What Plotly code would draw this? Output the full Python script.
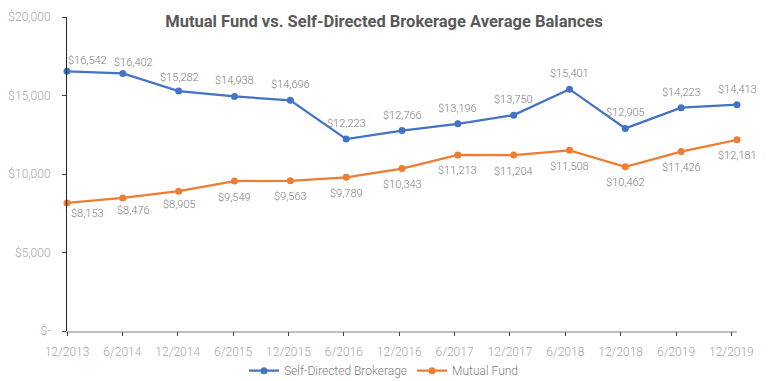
import plotly.graph_objects as go

categories = ["12/2013", "6/2014", "12/2014", "6/2015", "12/2015", "6/2016", "12/2016",
              "6/2017", "12/2017", "6/2018", "12/2018", "6/2019", "12/2019"]
brokerage = [16542, 16402, 15282, 14938, 14696, 12223, 12766, 13196, 13750, 15401, 12905, 14223, 14413]
mutual = [8153, 8476, 8905, 9549, 9563, 9789, 10343, 11213, 11204, 11508, 10462, 11426, 12181]
ytick_vals = [0, 5000, 10000, 15000, 20000]
ytick_text = ["$-", "$5,000", "$10,000", "$15,000", "$20,000"]

FONT = "Roboto"
BLUE = "#4472C4"
ORANGE = "#ED7D31"
LABEL = "#808080"
TICKLBL = "#a6a6a6"

# label placement style: default vertical offset and a few manual nudges (xshift, yoffset)
label_style = {
    "Self-Directed Brokerage": dict(sign=1, default=15.5, nudges={0: (20, 10.5), 1: (10.5, 10.5), 2: (0.5, 14)}),
    "Mutual Fund": dict(sign=-1, default=16, nudges={0: (20, 10), 1: (10.5, 13), 2: (1, 13)}),
}

def fmt(v):
    return "${:,}".format(v)

series = [("Self-Directed Brokerage", brokerage, BLUE), ("Mutual Fund", mutual, ORANGE)]

fig = go.Figure()
annotations = []
for name, vals, color in series:
    fig.add_trace(go.Scatter(
        x=categories, y=vals, name=name, mode="lines+markers",
        line=dict(color=color, width=2.25), marker=dict(color=color, size=7),
        cliponaxis=False,
    ))
    st = label_style[name]
    for i, (c, v) in enumerate(zip(categories, vals)):
        xs, off = st["nudges"].get(i, (0, st["default"]))
        annotations.append(dict(
            x=c, y=v, xref="x", yref="y", text=fmt(v), showarrow=False,
            xshift=xs, yshift=st["sign"] * off, xanchor="center", yanchor="middle",
            font=dict(family=FONT, size=11, color=LABEL, weight=300),
        ))

# invisible trace carrying the tick axis categories
fig.add_trace(go.Scatter(
    x=categories, y=mutual, xaxis="x2", mode="markers",
    marker=dict(opacity=0), showlegend=False, hoverinfo="skip",
))

fig.update_layout(
    width=768, height=381,
    margin=dict(l=67, r=31, t=17, b=50, autoexpand=False),
    paper_bgcolor="white", plot_bgcolor="white",
    font=dict(family=FONT, color=LABEL),
    title=dict(text="<b>Mutual Fund vs. Self-Directed Brokerage Average Balances</b>",
               x=0.5, xanchor="center", xref="container",
               y=1 - 21 / 381, yanchor="middle", yref="container",
               font=dict(family=FONT, size=16.5, color="#595959")),
    showlegend=True,
    legend=dict(orientation="h", xref="container", x=0.5, xanchor="center",
                yref="container", y=1 - 370.7 / 381, yanchor="middle",
                font=dict(family=FONT, size=12, color=LABEL, weight=300), itemwidth=30,
                traceorder="normal"),
    annotations=annotations,
    xaxis=dict(type="category", range=[0, 12], showgrid=False, automargin=False,
               showline=True, linecolor="#bfbfbf", linewidth=1.5,
               ticks="", showticklabels=False),
    xaxis2=dict(type="category", overlaying="x", anchor="y", side="bottom",
                range=[0, 12.101], showgrid=False, automargin=False, showline=False,
                ticks="outside", ticklen=4, tickcolor="#404040", tickwidth=1,
                ticklabelstandoff=6,
                tickfont=dict(family=FONT, size=12, color=TICKLBL, weight=300)),
    yaxis=dict(range=[0, 20000], tickvals=ytick_vals, ticktext=ytick_text,
               showgrid=False, zeroline=False, automargin=False,
               showline=True, linecolor="#262626", linewidth=1,
               ticks="outside", ticklen=4, tickcolor="#404040",
               ticklabelstandoff=9,
               tickfont=dict(family=FONT, size=12, color=TICKLBL, weight=300)),
)

fig.write_html("out.html", config={"displayModeBar": False},
               post_script="document.body.style.margin='0';document.body.style.overflow='hidden';")
